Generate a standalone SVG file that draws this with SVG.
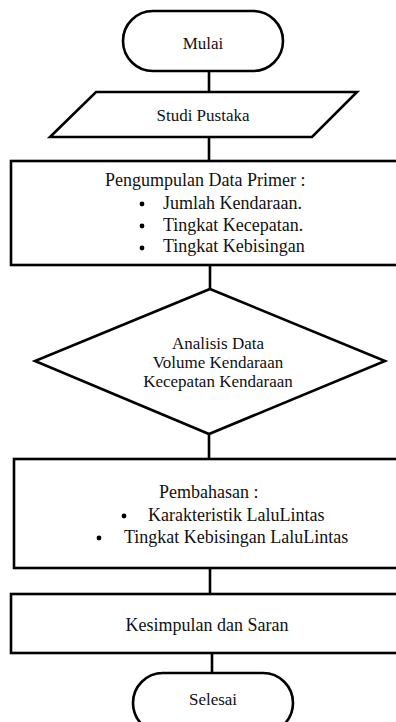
<svg xmlns="http://www.w3.org/2000/svg" width="396" height="722" viewBox="0 0 396 722">
<style>
.s{fill:#fff;stroke:#000;stroke-width:2.6;stroke-linejoin:miter}
.c{stroke:#000;stroke-width:2.6;fill:none}
text{font-family:"Liberation Serif","Times New Roman",serif;fill:#111}
.t17{font-size:17px}
.t18{font-size:18px}
.m{text-anchor:middle}
.b{fill:#000}
</style>
<rect width="396" height="722" fill="#fff"/>
<g id="connectors">
<line class="c" x1="209" y1="71" x2="209" y2="92"/>
<line class="c" x1="209" y1="137" x2="209" y2="161"/>
<line class="c" x1="210" y1="265" x2="210" y2="289"/>
<line class="c" x1="209" y1="434" x2="209" y2="459"/>
<line class="c" x1="210" y1="568" x2="210" y2="594"/>
<line class="c" x1="212" y1="653" x2="212" y2="673"/>
</g>
<g id="mulai">
<rect class="s" x="123" y="11" width="160" height="60" rx="30" ry="30"/>
<text class="t17 m" x="203" y="49">Mulai</text>
</g>
<g id="studi">
<polygon class="s" points="96,92 357,92 312,137 50,137"/>
<text class="t17 m" x="203" y="121">Studi Pustaka</text>
</g>
<g id="pengumpulan">
<rect class="s" x="11" y="161" width="392" height="104"/>
<text class="t18" x="105" y="186">Pengumpulan Data Primer :</text>
<circle class="b" cx="142" cy="204" r="2.4"/>
<text class="t18" x="163" y="209">Jumlah Kendaraan.</text>
<circle class="b" cx="142" cy="226" r="2.4"/>
<text class="t18" x="163" y="231">Tingkat Kecepatan.</text>
<circle class="b" cx="142" cy="248" r="2.4"/>
<text class="t18" x="163" y="252">Tingkat Kebisingan</text>
</g>
<g id="analisis">
<polygon class="s" points="210,289 385,361 209,434 35,361"/>
<text class="t17 m" x="218" y="349">Analisis Data</text>
<text class="t17 m" x="218" y="368">Volume Kendaraan</text>
<text class="t17 m" x="218" y="387">Kecepatan Kendaraan</text>
</g>
<g id="pembahasan">
<rect class="s" x="14" y="459" width="389" height="109"/>
<text class="t18" x="159" y="498">Pembahasan :</text>
<circle class="b" cx="124" cy="516" r="2.4"/>
<text class="t18" x="148" y="521">Karakteristik LaluLintas</text>
<circle class="b" cx="99" cy="538" r="2.4"/>
<text class="t18" x="124" y="543">Tingkat Kebisingan LaluLintas</text>
</g>
<g id="kesimpulan">
<rect class="s" x="11" y="594" width="392" height="59"/>
<text class="t18 m" x="207" y="631">Kesimpulan dan Saran</text>
</g>
<g id="selesai">
<rect class="s" x="133" y="673" width="160" height="60" rx="30" ry="30"/>
<text class="t17 m" x="213" y="705">Selesai</text>
</g>
</svg>
